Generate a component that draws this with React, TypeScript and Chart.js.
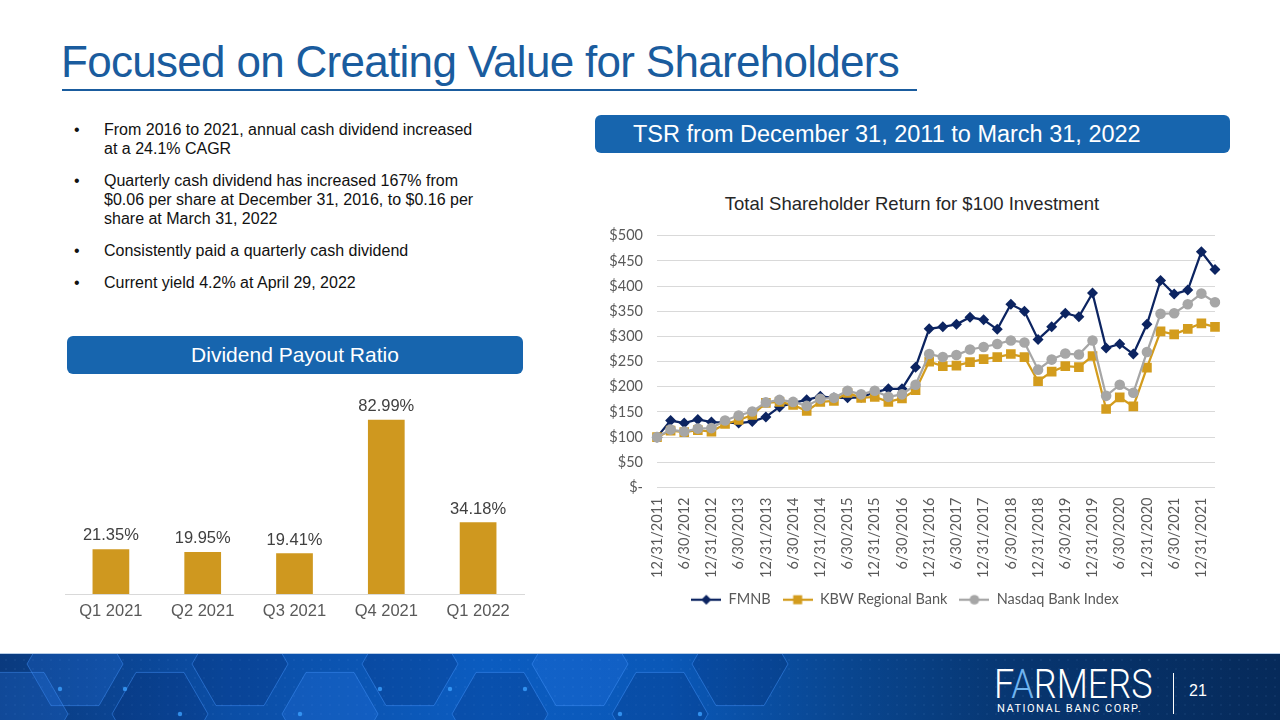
import React, { useEffect, useRef } from 'react';
import { Chart, registerables } from 'chart.js';

Chart.register(...registerables);

// ---------- Data ----------
const quarterDates = [
  '12/31/2011',
  '3/31/2012', '6/30/2012', '9/30/2012', '12/31/2012',
  '3/31/2013', '6/30/2013', '9/30/2013', '12/31/2013',
  '3/31/2014', '6/30/2014', '9/30/2014', '12/31/2014',
  '3/31/2015', '6/30/2015', '9/30/2015', '12/31/2015',
  '3/31/2016', '6/30/2016', '9/30/2016', '12/31/2016',
  '3/31/2017', '6/30/2017', '9/30/2017', '12/31/2017',
  '3/31/2018', '6/30/2018', '9/30/2018', '12/31/2018',
  '3/31/2019', '6/30/2019', '9/30/2019', '12/31/2019',
  '3/31/2020', '6/30/2020', '9/30/2020', '12/31/2020',
  '3/31/2021', '6/30/2021', '9/30/2021', '12/31/2021',
  '3/31/2022',
];

const fmnbValues = [
  100, 133, 128, 135, 130, 129, 128, 131, 140, 160, 168, 174, 181, 178, 178, 179,
  189, 196, 196, 239, 315, 319, 324, 338, 333, 314, 364, 350, 294, 319, 346, 339,
  386, 277, 285, 265, 324, 411, 384, 392, 468, 433,
];

const kbwValues = [
  100, 113, 110, 114, 111, 126, 134, 144, 168, 170, 164, 152, 170, 172, 188, 178,
  180, 170, 177, 193, 250, 241, 242, 249, 255, 259, 265, 259, 211, 230, 241, 239,
  261, 156, 179, 161, 238, 310, 304, 315, 326, 319,
];

const nasdaqValues = [
  100, 115, 111, 117, 118, 133, 143, 151, 169, 174, 170, 162, 176, 178, 192, 185,
  192, 180, 185, 204, 265, 259, 263, 274, 279, 285, 292, 288, 234, 254, 266, 264,
  292, 182, 204, 188, 269, 345, 346, 364, 385, 368,
];

const seriesNames = ['FMNB', 'KBW Regional Bank', 'Nasdaq Bank Index'];

const payoutQuarters = ['Q1 2021', 'Q2 2021', 'Q3 2021', 'Q4 2021', 'Q1 2022'];
const payoutRatios = [21.35, 19.95, 19.41, 82.99, 34.18];

const bulletPoints = [
  ['From 2016 to 2021, annual cash dividend increased', 'at a 24.1% CAGR'],
  ['Quarterly cash dividend has increased 167% from', '$0.06 per share at December 31, 2016, to $0.16 per', 'share at March 31, 2022'],
  ['Consistently paid a quarterly cash dividend'],
  ['Current yield 4.2% at April 29, 2022'],
];

// ---------- Styles ----------
const NAVY = '#0c2461';
const GOLD = '#d39c1d';
const GRAY = '#a6a6a6';
const BAR_GOLD = '#cf981f';
const BLUE = '#1a5c9e';
const BOX_BLUE = '#1765ae';
const ARIAL = '"Liberation Sans", Arial, Helvetica, sans-serif';
const CAL = 'Lato, "Open Sans", sans-serif';

function makeLegendIcon(color: string, style: string) {
  const c = document.createElement('canvas');
  c.width = 30;
  c.height = 12;
  const ctx = c.getContext('2d')!;
  ctx.strokeStyle = color;
  ctx.lineWidth = 2.25;
  ctx.beginPath();
  ctx.moveTo(0, 6);
  ctx.lineTo(30, 6);
  ctx.stroke();
  ctx.fillStyle = color;
  ctx.beginPath();
  if (style === 'rectRot') {
    ctx.moveTo(15, 1);
    ctx.lineTo(20, 6);
    ctx.lineTo(15, 11);
    ctx.lineTo(10, 6);
    ctx.closePath();
  } else if (style === 'rect') {
    ctx.rect(10.5, 1.5, 9, 9);
  } else {
    ctx.arc(15, 6, 4.8, 0, Math.PI * 2);
  }
  ctx.fill();
  return c;
}

function TsrChart() {
  const ref = useRef<HTMLCanvasElement | null>(null);
  useEffect(() => {
    if (!ref.current) return;
    const colors = [NAVY, GOLD, GRAY];
    const styles = ['rectRot', 'rect', 'circle'];
    const icons = colors.map((c, i) => makeLegendIcon(c, styles[i]));
    const values = [fmnbValues, kbwValues, nasdaqValues];
    const radii = [5.5, 6.8, 5.3];
    const chart = new Chart(ref.current, {
      type: 'line',
      data: {
        labels: quarterDates,
        datasets: seriesNames.map((name, i) => ({
          label: name,
          data: values[i],
          borderColor: colors[i],
          backgroundColor: colors[i],
          borderWidth: 2.25,
          pointStyle: styles[i] as any,
          pointRadius: radii[i],
          pointBorderWidth: 0,
          pointBackgroundColor: colors[i],
          tension: 0,
          order: 3 - i,
        })),
      },
      options: {
        animation: false,
        responsive: false,
        maintainAspectRatio: false,
        layout: { autoPadding: false, padding: { top: 10, right: 20, left: 0, bottom: 0 } },
        plugins: {
          tooltip: { enabled: false },
          title: { display: false },
          legend: {
            position: 'bottom',
            labels: {
              usePointStyle: true,
              pointStyleWidth: 30,
              boxHeight: 12,
              padding: 12,
              color: '#595959',
              font: { family: CAL, size: 14.5 },
              generateLabels: (ch: any) =>
                ch.data.datasets.map((ds: any, i: number) => ({
                  text: ds.label,
                  pointStyle: icons[i],
                  fillStyle: colors[i],
                  strokeStyle: colors[i],
                  lineWidth: 0,
                  hidden: false,
                  datasetIndex: i,
                  fontColor: '#595959',
                })),
            },
          },
        },
        scales: {
          x: {
            offset: false,
            grid: { display: false, drawTicks: false },
            border: { display: false },
            afterFit: (scale: any) => {
              scale.height = 93;
            },
            ticks: {
              autoSkip: false,
              minRotation: 90,
              maxRotation: 90,
              padding: 10,
              color: '#595959',
              font: { family: CAL, size: 14.5 },
              callback: (_v: any, i: number) => (i % 2 === 0 ? quarterDates[i] : null),
            },
          },
          y: {
            min: 0,
            max: 500,
            grid: { color: '#d9d9d9', lineWidth: 1, drawTicks: false },
            border: { display: false },
            afterFit: (scale: any) => {
              scale.width = 62;
            },
            ticks: {
              stepSize: 50,
              padding: 14,
              color: '#595959',
              font: { family: CAL, size: 14.5 },
              callback: (v: any) => (Number(v) === 0 ? '$-' : '$' + v),
            },
          },
        },
      },
    });
    return () => chart.destroy();
  }, []);
  return (
    <canvas
      ref={ref}
      width={640}
      height={404}
      style={{ position: 'absolute', left: 595, top: 213, width: 640, height: 404 }}
    />
  );
}

function PayoutChart() {
  const ref = useRef<HTMLCanvasElement | null>(null);
  useEffect(() => {
    if (!ref.current) return;
    const valueLabels = {
      id: 'valueLabels',
      afterDatasetsDraw(chart: any) {
        const ctx = chart.ctx;
        const meta = chart.getDatasetMeta(0);
        ctx.save();
        ctx.font = `16.5px ${ARIAL}`;
        ctx.fillStyle = '#404040';
        ctx.textAlign = 'center';
        ctx.textBaseline = 'bottom';
        meta.data.forEach((el: any, i: number) => {
          ctx.fillText(payoutRatios[i].toFixed(2) + '%', el.x, el.y - 5);
        });
        ctx.restore();
      },
    };
    const chart = new Chart(ref.current, {
      type: 'bar',
      data: {
        labels: payoutQuarters,
        datasets: [
          {
            label: 'Dividend Payout Ratio',
            data: payoutRatios,
            backgroundColor: BAR_GOLD,
            barPercentage: 0.4,
            categoryPercentage: 1,
          },
        ],
      },
      options: {
        animation: false,
        responsive: false,
        maintainAspectRatio: false,
        layout: { autoPadding: false, padding: { top: 25, left: 10, right: 11, bottom: 0 } },
        plugins: { legend: { display: false }, tooltip: { enabled: false } },
        scales: {
          x: {
            grid: { display: false, drawTicks: false },
            border: { display: true, color: '#d9d9d9', width: 1 },
            afterFit: (scale: any) => {
              scale.height = 36;
            },
            ticks: {
              padding: 8,
              color: '#595959',
              font: { family: ARIAL, size: 16.5 },
            },
          },
          y: { display: false, min: 0, max: 90 },
        },
      },
      plugins: [valueLabels],
    });
    return () => chart.destroy();
  }, []);
  return (
    <canvas
      ref={ref}
      width={480}
      height={250}
      style={{ position: 'absolute', left: 55, top: 380, width: 480, height: 250 }}
    />
  );
}

function hexPath(cx: number, cy: number, r: number) {
  const pts: string[] = [];
  for (let k = 0; k < 6; k++) {
    const a = (Math.PI / 3) * k;
    pts.push(`${(cx + r * Math.cos(a)).toFixed(1)},${(cy + r * Math.sin(a)).toFixed(1)}`);
  }
  return pts.join(' ');
}

function Footer() {
  const hexes = [
    [75, 10, 48], [160, 60, 48], [240, 10, 48], [330, 60, 48], [410, 10, 48],
    [500, 60, 48], [580, 10, 48], [660, 60, 48], [740, 10, 48], [20, 60, 48],
  ];
  const dots: any[] = [];
  for (let x = 6; x < 1280; x += 9) {
    for (let y = 6; y < 67; y += 9) {
      dots.push(<circle key={`${x}-${y}`} cx={x} cy={y} r={0.7} fill="rgba(140,190,255,0.18)" />);
    }
  }
  return (
    <div
      style={{
        position: 'absolute',
        left: 0,
        top: 653,
        width: 1280,
        height: 67,
        background:
          'linear-gradient(90deg, #0a3a7e 0%, #0b4ea6 18%, #0b5cc0 38%, #0a58b8 52%, #094690 66%, #07356f 80%, #062a5a 100%)',
        borderTop: '1px solid #b8cde6',
        overflow: 'hidden',
      }}
    >
      <svg width={1280} height={67} style={{ position: 'absolute', left: 0, top: 0 }}>
        {dots}
        {hexes.map(([cx, cy, r], i) => (
          <polygon
            key={i}
            points={hexPath(cx, cy, r)}
            fill={i % 3 === 0 ? 'rgba(40,120,230,0.25)' : 'rgba(0,30,90,0.18)'}
            stroke="rgba(70,150,255,0.45)"
            strokeWidth={1}
          />
        ))}
        {[[60, 35], [125, 35], [180, 60], [300, 60], [380, 35], [450, 35], [525, 35], [620, 60], [700, 60]].map(
          ([x, y], i) => (
            <circle key={'n' + i} cx={x} cy={y} r={2.2} fill="rgba(60,160,255,0.8)" />
          )
        )}
      </svg>
      <div
        style={{
          position: 'absolute',
          left: 994,
          top: 10,
          fontFamily: 'Roboto, "Liberation Sans", sans-serif',
          fontWeight: 300,
          fontSize: 36,
          lineHeight: '36px',
          color: '#ffffff',
          letterSpacing: 0,
          transform: 'scaleY(1.12)',
          transformOrigin: 'left top',
          whiteSpace: 'nowrap',
        }}
      >
        F<span style={{ color: '#6fb3ef' }}>A</span>RMERS
      </div>
      <div
        style={{
          position: 'absolute',
          left: 997,
          top: 48,
          fontFamily: 'Roboto, "Liberation Sans", sans-serif',
          fontSize: 11,
          lineHeight: '13px',
          color: '#ffffff',
          letterSpacing: 1.5,
          whiteSpace: 'nowrap',
        }}
      >
        NATIONAL BANC CORP.
      </div>
      <div style={{ position: 'absolute', left: 1173, top: 19, width: 1, height: 41, background: '#ffffff' }} />
      <div
        style={{
          position: 'absolute',
          left: 1189,
          top: 28,
          fontFamily: ARIAL,
          fontSize: 16,
          lineHeight: '18px',
          color: '#ffffff',
        }}
      >
        21
      </div>
    </div>
  );
}

export default function App() {
  return (
    <div
      style={{
        position: 'absolute',
        left: 0,
        top: 0,
        width: 1280,
        height: 720,
        background: '#ffffff',
        overflow: 'hidden',
        fontFamily: ARIAL,
      }}
    >
      {/* Title */}
      <div
        style={{
          position: 'absolute',
          left: 61,
          top: 36,
          fontSize: 44,
          lineHeight: '52px',
          letterSpacing: -0.7,
          color: BLUE,
          whiteSpace: 'nowrap',
        }}
      >
        Focused on Creating Value for Shareholders
      </div>
      <div style={{ position: 'absolute', left: 62, top: 89, width: 855, height: 2, background: BLUE }} />

      {/* Bullets */}
      <div style={{ position: 'absolute', left: 70, top: 120, width: 470, color: '#111111', fontSize: 16, lineHeight: '19px' }}>
        {bulletPoints.map((lines, i) => (
          <div key={i} style={{ position: 'relative', paddingLeft: 34, marginBottom: 13 }}>
            <span style={{ position: 'absolute', left: 4, top: 0 }}>•</span>
            {lines.map((l, j) => (
              <div key={j} style={{ whiteSpace: 'nowrap' }}>
                {l}
              </div>
            ))}
          </div>
        ))}
      </div>

      {/* Dividend Payout Ratio header */}
      <div
        style={{
          position: 'absolute',
          left: 67,
          top: 336,
          width: 456,
          height: 38,
          borderRadius: 6,
          background: BOX_BLUE,
          color: '#ffffff',
          fontSize: 21,
          lineHeight: '38px',
          textAlign: 'center',
        }}
      >
        Dividend Payout Ratio
      </div>

      {/* TSR header */}
      <div
        style={{
          position: 'absolute',
          left: 595,
          top: 115,
          width: 635,
          height: 38,
          borderRadius: 6,
          background: BOX_BLUE,
          color: '#ffffff',
          fontSize: 23.5,
          lineHeight: '38px',
          boxSizing: 'border-box',
          paddingLeft: 38,
          textAlign: 'left',
          whiteSpace: 'nowrap',
        }}
      >
        TSR from December 31, 2011 to March 31, 2022
      </div>

      {/* Line chart title */}
      <div
        style={{
          position: 'absolute',
          left: 612,
          top: 193,
          width: 600,
          textAlign: 'center',
          fontSize: 18.5,
          lineHeight: '22px',
          color: '#262626',
        }}
      >
        Total Shareholder Return for $100 Investment
      </div>

      <TsrChart />
      <PayoutChart />
      <Footer />
    </div>
  );
}
